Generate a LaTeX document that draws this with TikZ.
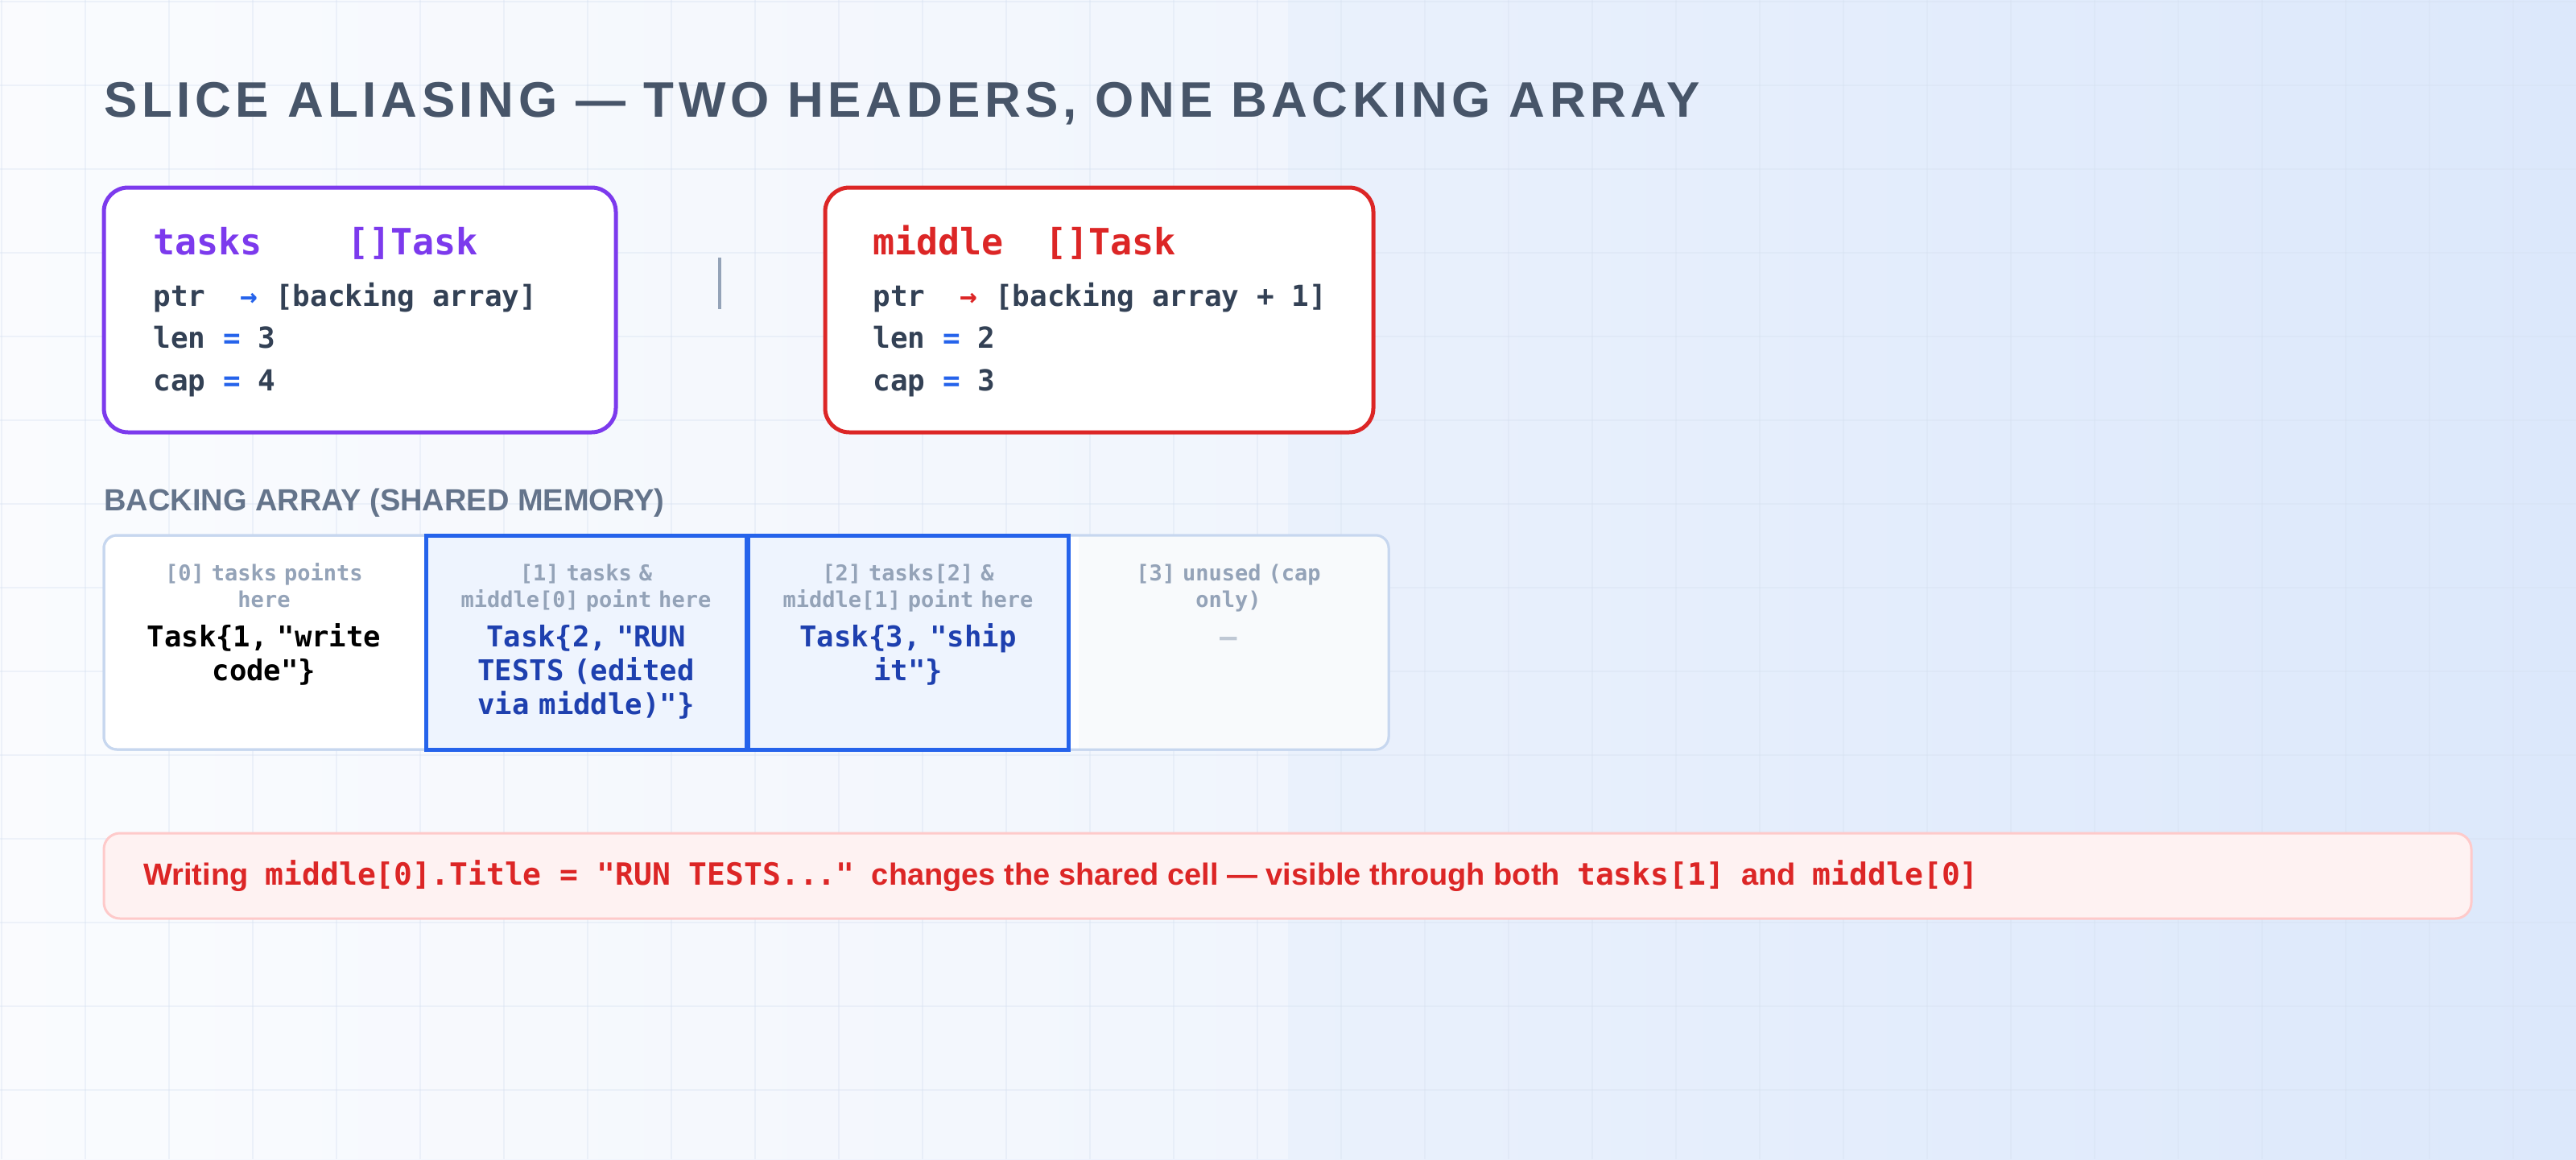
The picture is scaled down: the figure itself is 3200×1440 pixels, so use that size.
\documentclass[tikz,border=0pt]{standalone}
\usepackage{fontspec}
\setmainfont{Liberation Sans}
\setmonofont[WordSpace={1,0,0}]{DejaVu Sans Mono}
\newfontfamily\titlefont[LetterSpace=9]{Liberation Sans}
\definecolor{slate}{HTML}{475569}
\definecolor{slatet}{HTML}{334155}
\definecolor{gray5}{HTML}{64748B}
\definecolor{gray4}{HTML}{94A3B8}
\definecolor{purp}{HTML}{7C3AED}
\definecolor{redc}{HTML}{DC2626}
\definecolor{bluec}{HTML}{2563EB}
\definecolor{navy}{HTML}{1E40AF}
\definecolor{cellb}{HTML}{C7D7EF}
\definecolor{bgA}{HTML}{F8FAFE}
\definecolor{bgB}{HTML}{DCE8FB}
\definecolor{gridc}{HTML}{D5E0F0}
\definecolor{unusedf}{HTML}{F8FAFC}
\definecolor{hif}{HTML}{EEF4FE}
\definecolor{banb}{HTML}{FECACA}
\definecolor{banf}{HTML}{FEF2F2}
\tikzset{
 hdrbox/.style={draw=#1,line width=2.5pt,rounded corners=15pt,fill=white},
 hdr/.style={anchor=base west,font=\ttfamily\bfseries\fontsize{22.5}{26}\selectfont,text=#1,inner sep=0},
 fld/.style={anchor=base west,font=\ttfamily\bfseries\fontsize{18}{20}\selectfont,text=slatet,inner sep=0},
 lbl/.style={font=\ttfamily\bfseries\fontsize{13.5}{16.5}\selectfont,text=gray4,align=center,text width=185pt,anchor=base,inner sep=0},
 val/.style={font=\ttfamily\bfseries\fontsize{17.8}{21}\selectfont,text=#1,align=center,text width=185pt,anchor=base,inner sep=0},
}
\begin{document}
\begin{tikzpicture}[x=0.5pt,y=-0.5pt]
\useasboundingbox (0,0) rectangle (3200,1440);
\shade[left color=bgA,right color=bgB] (0,0) rectangle (3200,1440);
\fill[white,opacity=0.35] (0,0) rectangle (1600,1440);
\foreach \i in {0,...,31} {\draw[gridc,line width=0.6pt,opacity=0.35] (\i*104+2,0) -- (\i*104+2,1440);}
\foreach \j in {0,...,14} {\draw[gridc,line width=0.6pt,opacity=0.35] (0,\j*104+2) -- (3200,\j*104+2);}
\node[anchor=base west,inner sep=0,text=slate,font=\titlefont\bfseries\fontsize{31}{36}\selectfont] (title) at (129,145) {SLICE ALIASING — TWO HEADERS, ONE BACKING ARRAY};
% tasks header
\draw[hdrbox=purp] (129,233) rectangle (765,537);
\node[hdr=purp] (tn) at (190,316) {tasks};
\node[hdr=purp] (tt) at (431,316) {[]Task};
\node[fld] (tp) at (190,380) {ptr\ \ \textcolor{bluec}{→} [backing array]};
\node[fld] (tl) at (190,432) {len \textcolor{bluec}{=} 3};
\node[fld] (tc) at (190,485) {cap \textcolor{bluec}{=} 4};
\draw[gray4,line width=2pt] (894,320) -- (894,384);
% middle header
\draw[hdrbox=redc] (1025,233) rectangle (1706,537);
\node[hdr=redc] (mn) at (1084,316) {middle};
\node[hdr=redc] (mt) at (1298,316) {[]Task};
\node[fld] (mp) at (1084,380) {ptr\ \ \textcolor{redc}{→} [backing array + 1]};
\node[fld] (ml) at (1084,432) {len \textcolor{bluec}{=} 2};
\node[fld] (mc) at (1084,485) {cap \textcolor{bluec}{=} 3};
% backing array
\node[anchor=base west,inner sep=0,text=gray5,font=\bfseries\fontsize{19}{22}\selectfont] (ba) at (129,634) {BACKING ARRAY (SHARED MEMORY)};
\draw[cellb,line width=1.5pt,rounded corners=8pt,fill=white] (129,665) rectangle (1725,931);
\fill[unusedf,rounded corners=8pt] (1327,666) rectangle (1724,930);
\fill[white] (1327,666) rectangle (1340,930);
\fill[hif] (529,665) rectangle (1327,931);
\draw[cellb,line width=1.5pt,rounded corners=8pt] (129,665) rectangle (1725,931);
\draw[bluec,line width=2.5pt] (529,665) rectangle (927,931) (929,665) rectangle (1327,931);
\node[lbl] (l0) at (328,721) {[0] tasks points\\here};
\node[val=black] (v0) at (328,803) {Task\{1, "write\\code"\}};
\node[lbl] (l1) at (728,721) {[1] tasks \&\\middle[0] point here};
\node[val=navy] (v1) at (728,803) {Task\{2, "RUN\\TESTS (edited\\via middle)"\}};
\node[lbl] (l2) at (1128,721) {[2] tasks[2] \&\\middle[1] point here};
\node[val=navy] (v2) at (1128,803) {Task\{3, "ship\\it"\}};
\node[lbl] (l3) at (1526,721) {[3] unused (cap\\only)};
\node[val=gray4!60] (v3) at (1526,803) {—};
% banner
\draw[banb,fill=banf,line width=1.5pt,rounded corners=10pt] (129,1035) rectangle (3070,1141);
\node[anchor=base west,inner sep=0,text=redc,font=\bfseries\fontsize{19}{22}\selectfont] (note) at (178,1099)
 {Writing \ \texttt{middle[0].Title = "RUN TESTS..."} \ changes the shared cell — visible through both \ \texttt{tasks[1]} \ and \ \texttt{middle[0]}};
\end{tikzpicture}
\end{document}
